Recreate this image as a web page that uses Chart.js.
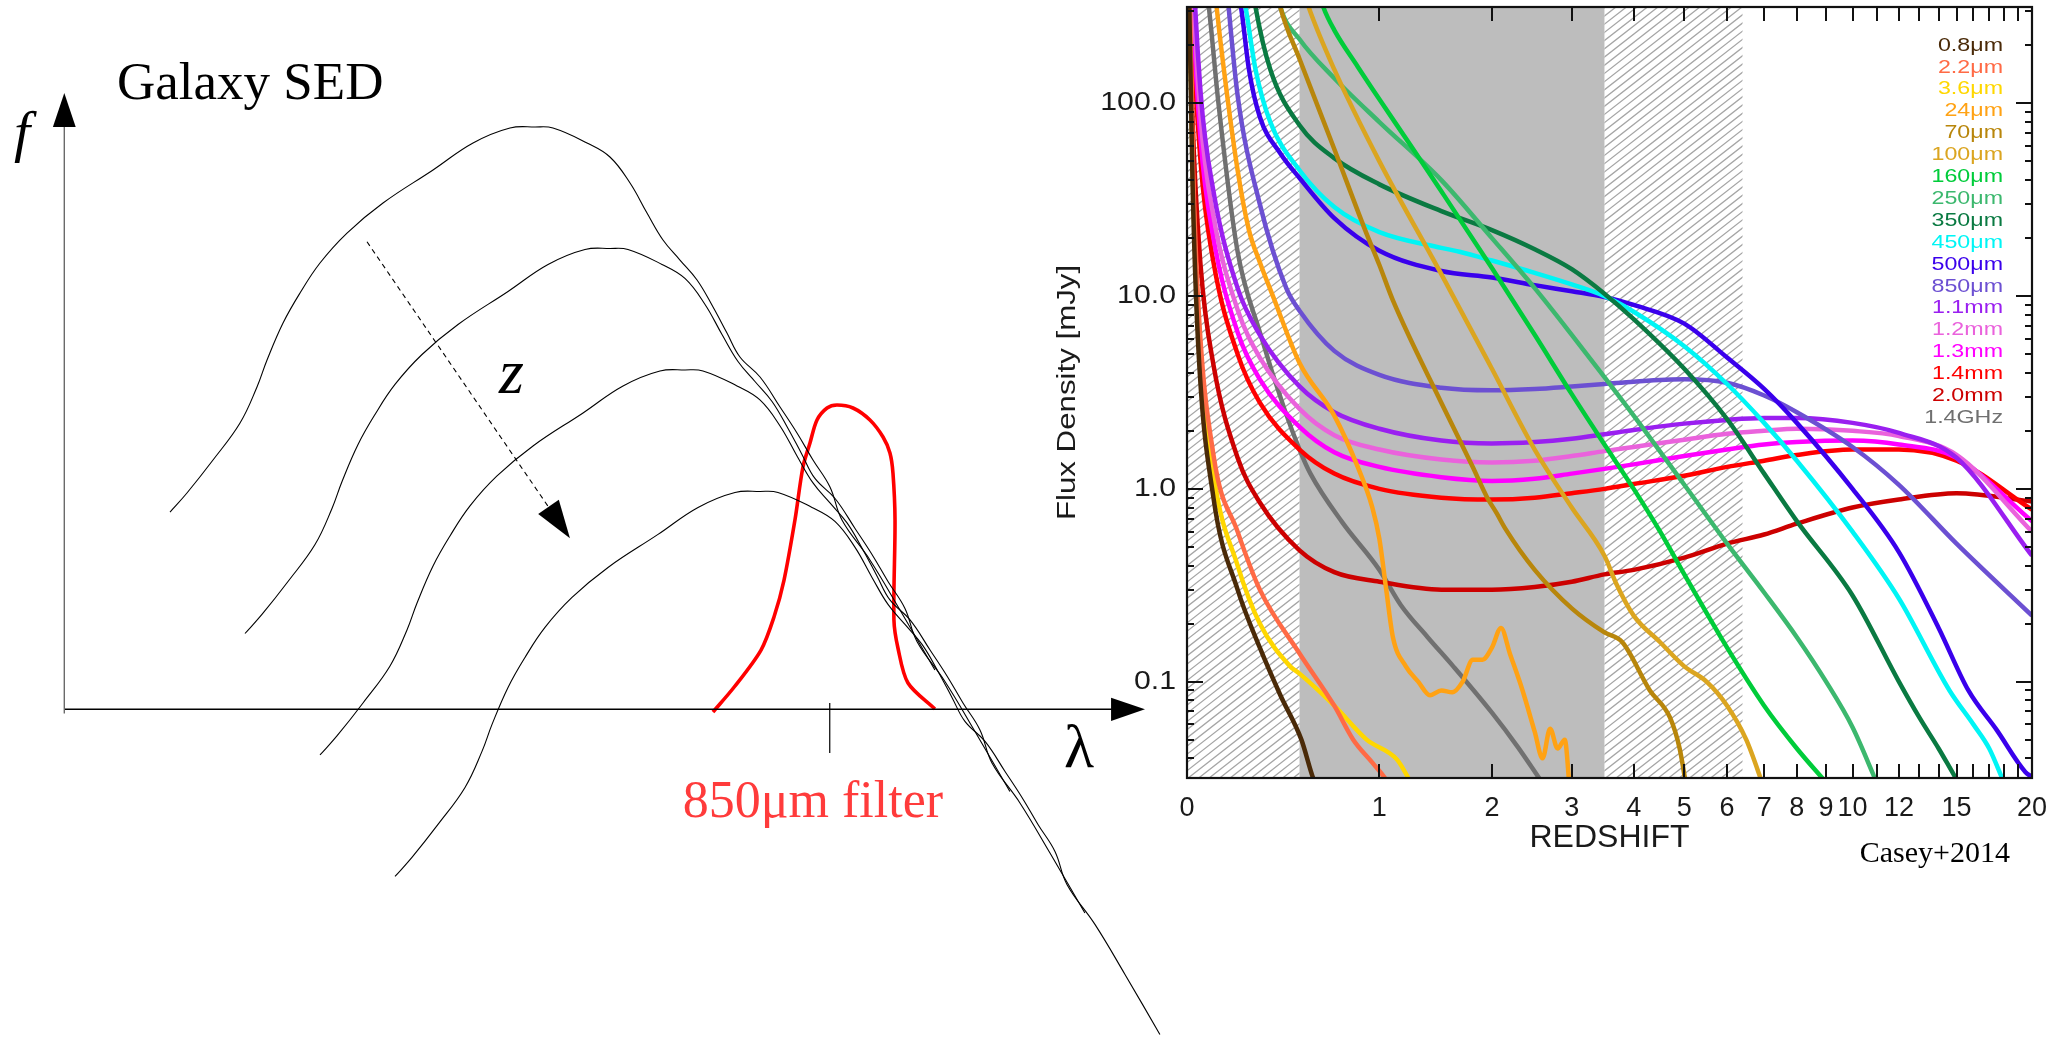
<!DOCTYPE html>
<html>
<head>
<meta charset="utf-8">
<title>Galaxy SED and flux density versus redshift</title>
<script src="https://cdn.jsdelivr.net/npm/chart.js@4.4.1/dist/chart.umd.min.js"></script>
<style>
  html, body { margin: 0; padding: 0; background: #fff; }
  body { width: 2054px; height: 1037px; position: relative; overflow: hidden; }
  #sedWrap { position: absolute; left: 0; top: 0; width: 1180px; height: 1037px; }
  #fluxWrap { position: absolute; left: 1040px; top: 0; width: 1014px; height: 1037px; }
  canvas { display: block; }
</style>
</head>
<body>
<div id="sedWrap"><canvas id="sed" width="1180" height="1037"></canvas></div>
<div id="fluxWrap"><canvas id="flux" width="1014" height="1037"></canvas></div>
<script>
// ---------------------------------------------------------------------------
// Left panel: schematic galaxy SEDs (log f vs log lambda, arbitrary units,
// axes run 0..100) shifting with redshift, plus the 850um filter curve.
// ---------------------------------------------------------------------------
const sedNearest = [[9.78,32.01],[11.35,35.10],[13.76,40.45],[16.26,46.45],[17.83,52.30],[18.76,56.68],[20.24,62.68],[21.81,67.55],[23.66,72.42],[26.16,77.28],[29.49,82.15],[34.12,87.51],[37.82,91.89],[41.24,94.32],[43.56,94.48],[45.22,94.32],[48.37,91.89],[50.49,89.62],[52.35,85.40],[53.92,80.53],[55.40,76.15],[56.97,72.90],[58.55,69.66],[60.03,65.28],[61.32,61.06],[62.52,57.17],[64.38,53.92],[66.23,49.05],[67.80,44.83],[69.28,40.45],[70.85,36.07],[71.96,30.72],[74.55,24.23],[77.33,16.11],[80.56,6.38]];
const sedNear = [[16.72,12.30],[18.29,15.39],[20.70,20.74],[23.20,26.74],[24.77,32.59],[25.70,36.97],[27.18,42.97],[28.75,47.84],[30.60,52.71],[33.10,57.57],[36.43,62.44],[41.06,67.80],[44.76,72.18],[48.18,74.61],[50.50,74.77],[52.16,74.61],[55.31,72.18],[57.43,69.91],[59.29,65.69],[60.86,60.82],[62.34,56.44],[63.91,53.19],[65.49,49.95],[66.97,45.57],[68.26,41.35],[69.46,37.46],[71.32,34.21],[73.17,29.34],[74.74,25.12],[76.22,20.74],[77.79,16.36],[78.90,11.01],[81.49,4.52],[84.27,-3.60],[87.50,-13.33]];
const sedFar = [[23.66,-7.41],[25.23,-4.32],[27.64,1.03],[30.14,7.03],[31.71,12.88],[32.64,17.26],[34.12,23.26],[35.69,28.13],[37.54,33.00],[40.04,37.86],[43.37,42.73],[48.00,48.09],[51.70,52.47],[55.12,54.90],[57.44,55.06],[59.10,54.90],[62.25,52.47],[64.37,50.20],[66.23,45.98],[67.80,41.11],[69.28,36.73],[70.85,33.48],[72.43,30.24],[73.91,25.86],[75.20,21.64],[76.40,17.75],[78.26,14.50],[80.11,9.63],[81.68,5.41],[83.16,1.03],[84.73,-3.35],[85.84,-8.70],[88.43,-15.19],[91.21,-23.31],[94.44,-33.04]];
const sedFarthest = [[30.60,-27.12],[32.17,-24.03],[34.58,-18.68],[37.08,-12.68],[38.65,-6.83],[39.58,-2.45],[41.06,3.55],[42.63,8.42],[44.48,13.29],[46.98,18.15],[50.31,23.02],[54.94,28.38],[58.64,32.76],[62.06,35.19],[64.38,35.35],[66.04,35.19],[69.19,32.76],[71.31,30.49],[73.17,26.27],[74.74,21.40],[76.22,17.02],[77.79,13.77],[79.37,10.53],[80.85,6.15],[82.14,1.93],[83.34,-1.96],[85.20,-5.21],[87.05,-10.08],[88.62,-14.30],[90.10,-18.68],[91.67,-23.06],[92.78,-28.41],[95.37,-34.90],[98.15,-43.02],[101.38,-52.75]];
const filter850 = [[60.02,-0.44],[61.99,3.62],[64.47,9.62],[65.67,14.98],[66.60,20.98],[67.61,30.72],[68.35,39.32],[69.00,43.21],[69.65,46.94],[70.58,48.89],[71.50,49.38],[72.98,48.89],[74.55,46.94],[75.76,44.18],[76.40,41.59],[76.68,38.34],[76.87,30.72],[76.77,14.49],[77.14,9.95],[78.07,4.27],[80.56,0.05]];
const filterCentre = 70.83;          // lambda of the 850um tick
const zArrow = [[28.01,75.86],[46.79,27.75]];  // dashed "increasing z" arrow, tail -> tip

// ---------------------------------------------------------------------------
// Right panel: flux density [mJy] versus redshift in each band (Casey+2014).
// Each band: [redshift, flux density] pairs.
// ---------------------------------------------------------------------------
const bands = ['0.8μm','2.2μm','3.6μm','24μm','70μm','100μm','160μm','250μm','350μm','450μm','500μm','850μm','1.1mm','1.2mm','1.3mm','1.4mm','2.0mm','1.4GHz'];
const bandColors = ['#4a2a08','#ff6a45','#ffd700','#ffa214','#b8860b','#dba520','#00cc3a','#3cb86e','#0a7a42','#00f5f5','#3a00ec','#6c50d2','#9a1ff0','#ea62dc','#ff00ff','#ff0000','#cc0000','#707070'];

const flux0p8um = [[0.005,600],[0.02,40],[0.04,6],[0.1,0.9],[0.2,0.3],[0.3,0.15],[0.4,0.085],[0.51,0.05],[0.575,0.0316],[0.6,0.028]];
const flux2p2um = [[0.005,900],[0.02,60],[0.04,10],[0.1,1.5],[0.2,0.6],[0.3,0.3],[0.5,0.14],[0.7,0.075],[0.82,0.05],[0.95,0.038],[1.04,0.0316],[1.07,0.029]];
const flux3p6um = [[0.005,800],[0.02,50],[0.04,8],[0.1,1.2],[0.2,0.4],[0.3,0.2],[0.45,0.12],[0.5,0.11],[0.7,0.075],[0.91,0.05],[1.13,0.0395],[1.22,0.0316],[1.25,0.029]];
const flux24um = [[0.1,450],[0.13,200],[0.2,45],[0.25,22],[0.3,15],[0.363,10],[0.5,4.5],[0.7,2.4],[0.85,1.3],[0.95,0.8],[1.0,0.55],[1.05,0.3],[1.1,0.17],[1.2,0.12],[1.3,0.1],[1.4,0.085],[1.5,0.09],[1.6,0.088],[1.7,0.1],[1.8,0.13],[1.9,0.13],[2.0,0.15],[2.1,0.19],[2.2,0.14],[2.35,0.09],[2.5,0.055],[2.6,0.04],[2.7,0.057],[2.8,0.045],[2.9,0.05],[2.97,0.028]];
const flux70um = [[0.38,400],[0.4,316],[0.5,170],[0.7,58],[0.9,22],[1.0,14.5],[1.1,9.5],[1.5,2.8],[1.8,1.3],[1.95,0.9],[2.05,0.75],[2.15,0.62],[2.5,0.38],[3.0,0.24],[3.5,0.18],[3.8,0.16],[4.3,0.09],[4.7,0.065],[4.9,0.045],[5.05,0.028]];
const flux100um = [[0.5,450],[0.55,316],[0.7,150],[1,50],[1.5,13],[2,4.2],[2.5,1.6],[3,0.8],[3.5,0.45],[3.7,0.32],[4,0.22],[4.5,0.16],[5,0.12],[5.5,0.1],[6,0.075],[6.5,0.05],[7,0.028]];
const flux160um = [[0.6,400],[0.634,316],[0.7,240],[0.85,155],[1,105],[1.25,59],[1.5,35],[2,14],[2.5,6.3],[3,3.1],[3.5,1.7],[4,1.0],[4.5,0.6],[5,0.36],[6,0.15],[7,0.075],[8,0.045],[9,0.03]];
const flux250um = [[0.37,450],[0.4,316],[0.5,215],[0.7,135],[1,80],[1.5,40],[2,20],[2.5,11],[3,6.3],[3.5,3.8],[4,2.4],[5,1.05],[6,0.52],[7,0.29],[8,0.17],[9,0.1],[10,0.058],[11,0.03]];
const flux350um = [[0.26,450],[0.28,316],[0.35,150],[0.5,77],[0.7,52],[1,38],[1.5,27.6],[2,22],[2.5,17.5],[3,13.8],[3.5,10.3],[4,7.6],[5,4.2],[6,2.3],[7,1.2],[8,0.68],[10,0.28],[12,0.1],[13,0.065],[14,0.045],[14.6,0.036],[15.1,0.03]];
const flux450um = [[0.21,450],[0.235,316],[0.28,150],[0.35,80],[0.5,45],[0.7,29],[1,21.5],[1.5,17.8],[1.67,17],[2,15.3],[2.5,13.2],[3,11.5],[3.5,10],[4,8.3],[5,5.5],[6,3.5],[7,2.2],[8,1.4],[10,0.6],[12,0.27],[14.6,0.09],[16,0.06],[17,0.045],[17.9,0.031]];
const flux500um = [[0.19,450],[0.215,316],[0.25,150],[0.3,85],[0.4,55],[0.5,41],[0.7,25.4],[1,17.2],[1.5,13.5],[2,12.5],[2.5,11.4],[3,10.6],[3.5,9.9],[4,9.0],[5,7.2],[6,4.8],[7,3.3],[8,2.2],[10,1.0],[12,0.47],[14,0.19],[15.7,0.09],[17.5,0.056],[19.5,0.034],[20,0.032]];
const flux850um = [[0.15,450],[0.2,110],[0.3,30],[0.43,11],[0.5,8.4],[0.7,5.2],[1,3.9],[1.5,3.35],[2,3.25],[2.5,3.3],[3,3.4],[3.5,3.5],[4,3.6],[5,3.7],[6,3.55],[7,3.05],[8,2.5],[10,1.65],[12,1.05],[15,0.52],[20,0.22]];
const flux1p1mm = [[0.01,2600],[0.02,680],[0.05,115],[0.1,35],[0.2,11],[0.3,6.3],[0.5,3.4],[0.7,2.5],[1,2.05],[1.5,1.78],[2,1.72],[2.5,1.75],[3,1.82],[3.5,1.92],[4,2.02],[5,2.18],[6,2.28],[7,2.33],[8,2.33],[10,2.2],[12,1.95],[15,1.45],[20,0.45]];
const flux1p2mm = [[0.01,1900],[0.02,500],[0.05,85],[0.1,26],[0.2,8.5],[0.3,4.8],[0.5,2.6],[0.7,1.9],[1,1.6],[1.5,1.42],[2,1.37],[2.5,1.4],[3,1.48],[3.5,1.57],[4,1.65],[5,1.8],[6,1.93],[7,2.0],[8,2.05],[10,2.0],[12,1.88],[15,1.5],[20,0.6]];
const flux1p3mm = [[0.01,1500],[0.02,380],[0.05,65],[0.1,20],[0.2,6.5],[0.3,3.7],[0.5,2.1],[0.7,1.55],[1,1.3],[1.5,1.15],[2,1.1],[2.5,1.13],[3,1.2],[3.5,1.27],[4,1.34],[5,1.48],[6,1.6],[7,1.7],[8,1.75],[10,1.78],[12,1.7],[15,1.45],[20,0.68]];
const flux1p4mm = [[0.01,1150],[0.02,290],[0.05,50],[0.1,15],[0.2,5.0],[0.3,2.8],[0.5,1.6],[0.7,1.2],[1,1.0],[1.5,0.9],[2,0.88],[2.5,0.9],[3,0.95],[3.5,1.0],[4,1.06],[5,1.17],[6,1.3],[7,1.4],[8,1.5],[10,1.6],[12,1.6],[15,1.4],[20,0.78]];
const flux2p0mm = [[0.005,1300],[0.01,330],[0.02,85],[0.05,14.5],[0.1,4.4],[0.2,1.45],[0.3,0.85],[0.5,0.48],[0.7,0.37],[1,0.33],[1.5,0.30],[2,0.30],[2.5,0.31],[3,0.33],[3.5,0.36],[4,0.38],[5,0.44],[6,0.52],[7,0.58],[8,0.66],[10,0.8],[12,0.88],[15,0.95],[20,0.86]];
const flux1p4GHz = [[0.07,450],[0.09,250],[0.12,100],[0.2,17],[0.3,6.5],[0.42,2.6],[0.5,1.6],[0.56,1.2],[0.75,0.67],[1,0.38],[1.16,0.25],[1.38,0.17],[1.61,0.12],[2,0.069],[2.29,0.046],[2.57,0.031]];

const bandSeries = [flux0p8um, flux2p2um, flux3p6um, flux24um, flux70um, flux100um, flux160um, flux250um, flux350um, flux450um, flux500um, flux850um, flux1p1mm, flux1p2mm, flux1p3mm, flux1p4mm, flux2p0mm, flux1p4GHz];

const zTicks = [0,1,2,3,4,5,6,7,8,9,10,11,12,13,14,15,16,17,18,19,20];
const zTickLabels = [0,1,2,3,4,5,6,7,8,9,10,12,15,20];
const fluxTickLabels = [0.1, 1, 10, 100];
const zRange = [0, 20];
const fluxRange = [Math.pow(10, -1.5), Math.pow(10, 2.5)];
const hatchedBands = [[0, 0.5], [3.5, 6.4]];
const grayBand = [0.5, 3.5];

// ---------------------------------------------------------------------------
Chart.defaults.font.family = '"Liberation Sans", Arial, Helvetica, sans-serif';
Chart.defaults.color = '#1a1a1a';
const SANS = '"Liberation Sans", Arial, Helvetica, sans-serif';
const SERIF = '"Liberation Serif", "Times New Roman", serif';

function arrowHead(ctx, base, tip, halfWidth, color) {
  const dx = tip[0] - base[0], dy = tip[1] - base[1];
  const len = Math.hypot(dx, dy);
  const nx = -dy / len, ny = dx / len;
  ctx.beginPath();
  ctx.moveTo(tip[0], tip[1]);
  ctx.lineTo(base[0] + nx * halfWidth, base[1] + ny * halfWidth);
  ctx.lineTo(base[0] - nx * halfWidth, base[1] - ny * halfWidth);
  ctx.closePath();
  ctx.fillStyle = color;
  ctx.fill();
}

// text drawn with a wider-than-normal glyph aspect (the plot uses a broad sans face)
function wideText(ctx, text, x, y, widen, align, rotate) {
  ctx.save();
  ctx.translate(x, y);
  if (rotate) ctx.rotate(rotate);
  ctx.scale(widen, 1);
  ctx.textAlign = align;
  ctx.fillText(text, 0, 0);
  ctx.restore();
}

const sedLabels = [
  { text: 'Galaxy SED', at: [4.88, 99.03], font: '53px ' + SERIF, color: '#000' },
  { text: 'f', at: [-4.65, 90.59], font: 'italic 58px ' + SERIF, color: '#000' },
  { text: 'z', at: [40.22, 51.32], font: 'italic 64px ' + SERIF, color: '#000' },
  { text: 'λ', at: [92.5, -9.36], font: '62px ' + SERIF, color: '#000' },
  { text: '850μm filter', at: [57.22, -17.41], font: '52px ' + SERIF, color: '#ff3b3b' }
];

const sedDecor = {
  id: 'sedDecor',
  afterDatasetsDraw(chart) {
    const { ctx, scales: { x, y } } = chart;
    const P = (u, v) => [x.getPixelForValue(u), y.getPixelForValue(v)];
    ctx.save();
    arrowHead(ctx, P(0, 94.48), P(0, 100), 11.4, '#000');
    arrowHead(ctx, P(96.86, 0), P(100, 0), 11.6, '#000');
    const tail = P(...zArrow[0]), tip = P(...zArrow[1]);
    const L = Math.hypot(tip[0] - tail[0], tip[1] - tail[1]);
    const base = [tip[0] - (tip[0] - tail[0]) * 38 / L, tip[1] - (tip[1] - tail[1]) * 38 / L];
    arrowHead(ctx, base, tip, 12.5, '#000');
    ctx.textAlign = 'left';
    ctx.textBaseline = 'alphabetic';
    sedLabels.forEach(l => {
      ctx.font = l.font;
      ctx.fillStyle = l.color;
      const p = P(...l.at);
      ctx.fillText(l.text, p[0], p[1]);
    });
    ctx.restore();
  }
};

function sedDataset(points, color, width, extra) {
  return Object.assign({
    data: points.map(([u, v]) => ({ x: u, y: v })),
    showLine: true, borderColor: color, borderWidth: width,
    pointRadius: 0, tension: 0.4, fill: false
  }, extra || {});
}

// dashed arrow shaft stops where the head begins (36 px before the tip)
const zShaftEnd = (() => {
  const [a, b] = zArrow;
  const dxPx = (b[0] - a[0]) * 10.807, dyPx = (b[1] - a[1]) * 6.163;
  const L = Math.hypot(dxPx, dyPx);
  return [b[0] - (dxPx * 36 / L) / 10.807, b[1] - (dyPx * 36 / L) / 6.163];
})();

new Chart(document.getElementById('sed'), {
  type: 'scatter',
  data: {
    datasets: [
      sedDataset([[0, -0.7], [0, 94.6]], '#6a6a6a', 1.4, { tension: 0 }),
      sedDataset([[0.03, 0], [97, 0]], '#000', 1.4, { tension: 0 }),
      sedDataset([[filterCentre, 1.02], [filterCentre, -7.09]], '#000', 1.2, { tension: 0 }),
      sedDataset([zArrow[0], zShaftEnd], '#000', 1.1, { tension: 0, borderDash: [5, 4] }),
      sedDataset(sedNearest, '#000', 1.1),
      sedDataset(sedNear, '#000', 1.1),
      sedDataset(sedFar, '#000', 1.1),
      sedDataset(sedFarthest, '#000', 1.1),
      sedDataset(filter850, '#ff0000', 3.6, { tension: 0.3 })
    ]
  },
  options: {
    responsive: false, animation: false, events: [],
    layout: { padding: 0 },
    plugins: { legend: { display: false }, tooltip: { enabled: false } },
    scales: {
      x: { type: 'linear', display: false, min: -5.95, max: 103.24 },
      y: { type: 'linear', display: false, min: -53.17, max: 115.09 }
    }
  },
  plugins: [sedDecor]
});

// ---------------------------------------------------------------------------
const lz = z => Math.log10(1 + z);

const fluxDecor = {
  id: 'fluxDecor',
  beforeDatasetsDraw(chart) {
    const { ctx, chartArea: a, scales: { x } } = chart;
    const px = z => x.getPixelForValue(lz(z));
    ctx.save();
    ctx.beginPath();
    ctx.rect(a.left, a.top, a.right - a.left, a.bottom - a.top);
    ctx.clip();
    ctx.fillStyle = '#bdbdbd';
    ctx.fillRect(px(grayBand[0]), a.top, px(grayBand[1]) - px(grayBand[0]), a.bottom - a.top);
    const h = a.bottom - a.top;
    const run = h / Math.tan(38 * Math.PI / 180);
    hatchedBands.forEach(([z0, z1]) => {
      const x0 = px(z0), x1 = px(z1);
      ctx.save();
      ctx.beginPath();
      ctx.rect(x0, a.top, x1 - x0, h);
      ctx.clip();
      ctx.beginPath();
      for (let s = x0 - run - 20; s < x1 + 20; s += 10.5) {
        ctx.moveTo(s, a.bottom);
        ctx.lineTo(s + run, a.top);
      }
      ctx.strokeStyle = '#a6a6a6';
      ctx.lineWidth = 1.3;
      ctx.stroke();
      ctx.restore();
    });
    ctx.restore();
  },
  afterDatasetsDraw(chart) {
    const { ctx, chartArea: a, scales: { x, y } } = chart;
    const px = z => x.getPixelForValue(lz(z));
    ctx.save();
    ctx.strokeStyle = '#111';
    ctx.lineWidth = 2;
    ctx.beginPath();
    zTicks.forEach(z => {
      if (z <= zRange[0] || z >= zRange[1]) return;
      const p = Math.round(px(z));
      ctx.moveTo(p, a.bottom); ctx.lineTo(p, a.bottom - 14);
      ctx.moveTo(p, a.top); ctx.lineTo(p, a.top + 14);
    });
    for (let d = -2; d <= 2; d++) {
      for (let m = 1; m <= 9; m++) {
        const v = m * Math.pow(10, d);
        if (v <= fluxRange[0] || v >= fluxRange[1]) continue;
        const p = Math.round(y.getPixelForValue(v));
        const len = m === 1 ? 16 : 7;
        ctx.moveTo(a.left, p); ctx.lineTo(a.left + len, p);
        ctx.moveTo(a.right, p); ctx.lineTo(a.right - len, p);
      }
    }
    ctx.stroke();
    ctx.lineWidth = 2.2;
    ctx.strokeRect(a.left, a.top, a.right - a.left, a.bottom - a.top);

    // flux tick labels and axis title
    ctx.fillStyle = '#1a1a1a';
    ctx.textBaseline = 'middle';
    ctx.font = '25px ' + SANS;
    fluxTickLabels.forEach(v => {
      wideText(ctx, v.toFixed(1), a.left - 11, y.getPixelForValue(v), 1.21, 'right');
    });
    ctx.font = '25px ' + SANS;
    wideText(ctx, 'Flux Density [mJy]', a.left - 119, (a.top + a.bottom) / 2, 1.25, 'center', -Math.PI / 2);

    // band key, right-aligned inside the frame
    ctx.font = '18.6px ' + SANS;
    bands.forEach((b, i) => {
      ctx.fillStyle = bandColors[i];
      wideText(ctx, b, a.right - 29, a.top + 38.5 + i * 21.9, 1.25, 'right');
    });

    // citation
    ctx.font = '30px ' + SERIF;
    ctx.fillStyle = '#000';
    ctx.textAlign = 'right';
    ctx.textBaseline = 'alphabetic';
    ctx.fillText('Casey+2014', a.right - 22, a.bottom + 84);
    ctx.restore();
  }
};

new Chart(document.getElementById('flux'), {
  type: 'scatter',
  data: {
    datasets: bandSeries.map((series, i) => ({
      label: bands[i],
      data: series.map(([z, f]) => ({ x: lz(z), y: f })),
      showLine: true,
      borderColor: bandColors[i],
      borderWidth: 4.5,
      pointRadius: 0,
      cubicInterpolationMode: 'monotone',
      fill: false
    }))
  },
  options: {
    responsive: false, animation: false, events: [],
    layout: { padding: { left: 0, top: 7, right: 22, bottom: 180 } },
    plugins: { legend: { display: false }, tooltip: { enabled: false } },
    scales: {
      x: {
        type: 'linear',
        min: lz(zRange[0]), max: lz(zRange[1]),
        grid: { display: false, drawTicks: false },
        border: { display: false },
        afterFit: s => { s.height = 79; s.paddingLeft = 0; s.paddingRight = 0; },
        afterBuildTicks: s => { s.ticks = zTicks.map(z => ({ value: lz(z) })); },
        ticks: {
          autoSkip: false, maxRotation: 0, minRotation: 0, padding: 14,
          font: { size: 27 }, color: '#1a1a1a',
          callback: v => {
            const z = Math.round(Math.pow(10, v) - 1);
            return zTickLabels.includes(z) ? String(z) : '';
          }
        },
        title: { display: true, text: 'REDSHIFT', font: { size: 32 }, color: '#1a1a1a', padding: { top: 0, bottom: 0 } }
      },
      y: {
        type: 'logarithmic',
        min: fluxRange[0], max: fluxRange[1],
        grid: { display: false, drawTicks: false },
        border: { display: false },
        afterFit: s => { s.width = 147; s.paddingTop = 0; s.paddingBottom = 0; },
        afterBuildTicks: s => { s.ticks = fluxTickLabels.map(v => ({ value: v, major: true })); },
        ticks: { display: false }
      }
    }
  },
  plugins: [fluxDecor]
});
</script>
</body>
</html>
